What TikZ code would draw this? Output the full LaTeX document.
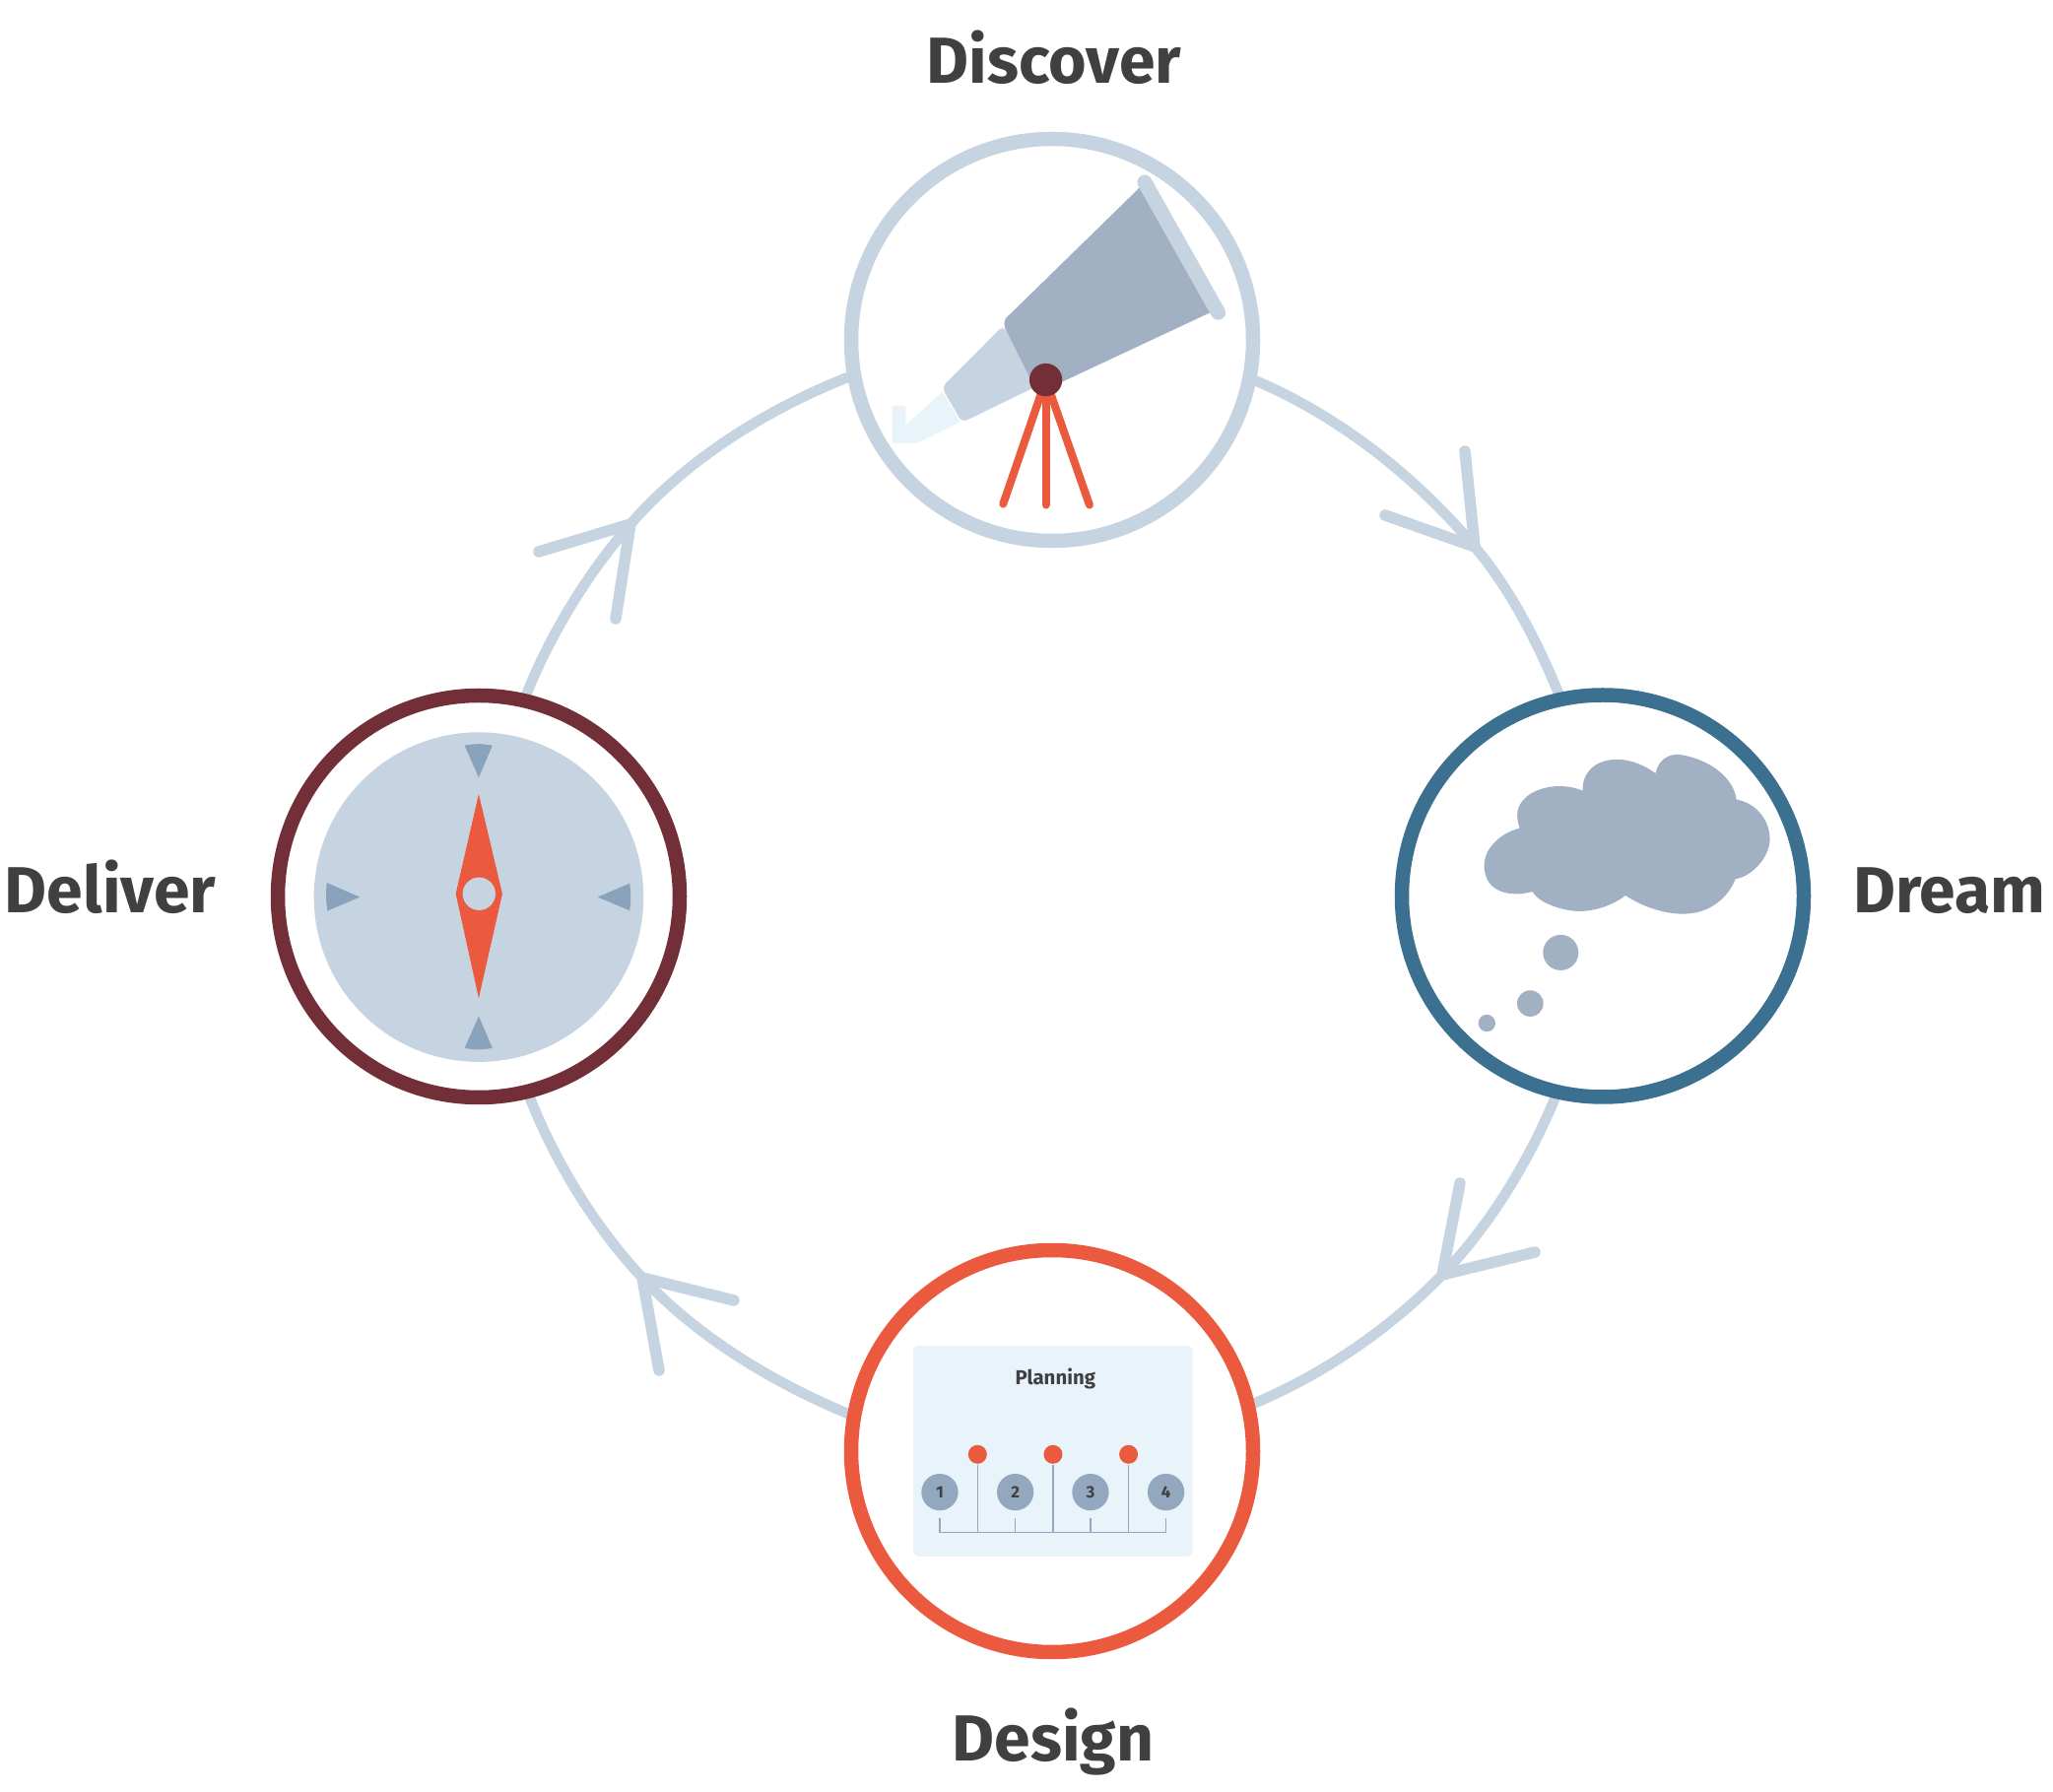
\documentclass[tikz,border=0pt]{standalone}
\usepackage{fontspec}
\setmainfont{Fira Sans}
\usetikzlibrary{backgrounds}
\definecolor{linkblue}{HTML}{C6D4E1}
\definecolor{dreamblue}{HTML}{3C7091}
\definecolor{designred}{HTML}{EB5A3F}
\definecolor{deliverred}{HTML}{722F37}
\definecolor{slateblue}{HTML}{A1B0C3}
\definecolor{paleblue}{HTML}{E8F3FA}
\definecolor{markblue}{HTML}{88A3BB}
\definecolor{numblue}{HTML}{93A8BF}
\definecolor{textgrey}{HTML}{404040}
\tikzset{
	stage/.style={circle, draw, fill=white, line width=1.45mm, minimum size=40.8mm, inner sep=0pt, outer sep=0pt},
	title/.style={anchor=base, text=textgrey, font=\fontsize{18.8pt}{20pt}\selectfont\bfseries},
	link/.style={line width=1.05mm, color=linkblue, looseness=0.84},
	barb/.style={line width=1.15mm, color=linkblue, line cap=round, line join=bevel},
	icon/.style={x=0.03333mm, y=-0.03333mm},
	pin/.style={circle, fill=designred, minimum size=1.9mm, inner sep=0pt},
	num/.style={circle, fill=numblue, minimum size=3.73mm, inner sep=0pt, text=textgrey, font=\fontsize{4.8pt}{5pt}\selectfont\bfseries},
	tick/.style={line width=0.12mm, color=numblue}
}

\begin{document}
\begin{tikzpicture}
	%%%%% FRAME %%%%%
	\useasboundingbox (0, 0) rectangle (20.84, 18.18);
	
	%%%%% STAGES %%%%%
	\node[stage, draw=linkblue] (discover) at (10.68, 14.73) {};
	\node[stage, draw=dreamblue] (dream) at (16.27, 9.085) {};
	\node[stage, draw=designred] (design) at (10.68, 3.45) {};
	\node[stage, draw=deliverred] (deliver) at (4.86, 9.08) {};
	
	\node[title] (discovertitle) at (10.70, 17.33) {Discover};
	\node[title] (dreamtitle) at (19.79, 8.91) {Dream};
	\node[title] (designtitle) at (10.69, 0.31) {Design};
	\node[title] (delivertitle) at (1.12, 8.91) {Deliver};
	
	%%%%% LINKS %%%%%
	\coordinate (tipa) at (14.97, 12.63);
	\coordinate (barba1) at (14.87, 13.60);
	\coordinate (barba2) at (14.06, 12.95);
	\coordinate (tipb) at (14.64, 5.24);
	\coordinate (barbb1) at (14.82, 6.17);
	\coordinate (barbb2) at (15.58, 5.47);
	\coordinate (tipc) at (6.52, 5.21);
	\coordinate (barbc1) at (7.45, 4.98);
	\coordinate (barbc2) at (6.69, 4.27);
	\coordinate (tipd) at (6.40, 12.86);
	\coordinate (barbd1) at (5.47, 12.58);
	\coordinate (barbd2) at (6.25, 11.90);
	
	\begin{scope}[on background layer]
		\draw[link] (discover.-11) to[out=-22, in=130] (tipa) to[out=-50, in=112] (dream.102);
		\draw[link] (dream.-103) to[out=-112, in=46] (tipb) to[out=-134, in=22] (design.13);
		\draw[link] (design.170) to[out=158, in=-47] (tipc) to[out=133, in=-69] (deliver.-76);
		\draw[link] (deliver.77) to[out=69, in=229] (tipd) to[out=49, in=201] (discover.190);
	\end{scope}
	
	\draw[barb] (barba1) -- (tipa) -- (barba2);
	\draw[barb] (barbb1) -- (tipb) -- (barbb2);
	\draw[barb] (barbc1) -- (tipc) -- (barbc2);
	\draw[barb] (barbd1) -- (tipd) -- (barbd2);
	
	%%%%% TELESCOPE %%%%%
	\begin{scope}[shift={(8.4cm, 16.98cm)}, icon]
		\draw[fill=paleblue, draw=none, rounded corners=0.2mm] (197, 875) -- (238, 875) -- (238, 935) -- (350, 833) -- (405, 925) -- (272, 990) -- (197, 990) -- cycle;
		\draw[fill=linkblue, draw=none, rounded corners=0.6mm] (535, 632) -- (640, 815) -- (410, 927) -- (348, 820) -- cycle;
		\draw[fill=slateblue, draw=none] (950, 212) -- (1170, 590) -- (640, 838) -- (541, 640) .. controls (535, 620) and (540, 608) .. (555, 598) -- cycle;
		\draw[line width=1.5mm, color=linkblue, line cap=round] (966, 195) -- (1190, 592);
		\draw[line width=0.8mm, color=designred, line cap=round] (665, 797) -- (535, 1175);
		\draw[line width=0.8mm, color=designred, line cap=round] (665, 797) -- (665, 1178);
		\draw[line width=0.8mm, color=designred, line cap=round] (665, 797) -- (798, 1178);
		\draw[fill=deliverred, draw=none] (665, 797) circle (50);
	\end{scope}
	
	%%%%% CLOUD %%%%%
	\begin{scope}[shift={(14cm, 11.28cm)}, icon]
		\draw[fill=slateblue, draw=none] (428, 452) .. controls (415, 415) and (418, 385) .. (445, 360) .. controls (480, 325) and (560, 312) .. (620, 338)
			.. controls (618, 290) and (650, 243) .. (725, 243) .. controls (770, 243) and (810, 262) .. (842, 285)
			.. controls (850, 245) and (880, 225) .. (915, 228) .. controls (1000, 240) and (1080, 295) .. (1088, 365)
			.. controls (1150, 375) and (1190, 430) .. (1190, 485) .. controls (1190, 540) and (1135, 600) .. (1085, 607)
			.. controls (1065, 660) and (1010, 712) .. (930, 713) .. controls (870, 715) and (800, 690) .. (750, 657)
			.. controls (715, 685) and (660, 705) .. (610, 705) .. controls (560, 705) and (485, 680) .. (467, 645)
			.. controls (420, 660) and (320, 660) .. (320, 565) .. controls (320, 510) and (375, 465) .. (428, 452) -- cycle;
		\draw[fill=slateblue, draw=none] (553, 831) circle (54);
		\draw[fill=slateblue, draw=none] (460, 986) circle (40);
		\draw[fill=slateblue, draw=none] (328, 1046) circle (26);
	\end{scope}
	
	%%%%% PLANNING %%%%%
	\begin{scope}[shift={(9cm, 4.78cm)}, icon]
		\draw[fill=paleblue, draw=none, rounded corners=0.6mm] (81, 78) rectangle (932, 720);
		\node[text=textgrey, font=\fontsize{5.8pt}{6pt}\selectfont\bfseries] (planning) at (514, 178) {Planning};
		
		\node[pin] (pin1) at (277, 409) {};
		\node[pin] (pin2) at (507, 409) {};
		\node[pin] (pin3) at (737, 409) {};
		\node[num] (num1) at (162, 524) {1};
		\node[num] (num2) at (392, 524) {2};
		\node[num] (num3) at (621, 524) {3};
		\node[num] (num4) at (851, 524) {4};
		
		\coordinate (baseline) at (162, 647);
		\draw[tick] (baseline) -- (851, 647);
		\draw[tick] (pin1) -- (pin1 |- baseline);
		\draw[tick] (pin2) -- (pin2 |- baseline);
		\draw[tick] (pin3) -- (pin3 |- baseline);
		\draw[tick] ([yshift=-0.67mm]num1.south) -- (num1 |- baseline);
		\draw[tick] ([yshift=-0.67mm]num2.south) -- (num2 |- baseline);
		\draw[tick] ([yshift=-0.67mm]num3.south) -- (num3 |- baseline);
		\draw[tick] ([yshift=-0.67mm]num4.south) -- (num4 |- baseline);
	\end{scope}
	
	%%%%% COMPASS %%%%%
	\begin{scope}[shift={(3cm, 10.98cm)}, icon]
		\draw[fill=linkblue, draw=none] (558, 572) circle (502);
		\draw[fill=markblue, draw=none] (515, 110) .. controls (558, 104) .. (600, 110) -- (558, 208) -- cycle;
		\draw[fill=markblue, draw=none] (515, 1032) .. controls (558, 1038) .. (600, 1032) -- (558, 935) -- cycle;
		\draw[fill=markblue, draw=none] (95, 528) .. controls (92, 572) .. (97, 614) -- (196, 572) -- cycle;
		\draw[fill=markblue, draw=none] (1018, 530) .. controls (1022, 572) .. (1018, 613) -- (920, 572) -- cycle;
		\draw[fill=designred, draw=none] (558, 258) -- (630, 562) -- (558, 880) -- (488, 562) -- cycle;
		\draw[fill=linkblue, draw=none] (559, 562) circle (50);
	\end{scope}
\end{tikzpicture}
\end{document}
